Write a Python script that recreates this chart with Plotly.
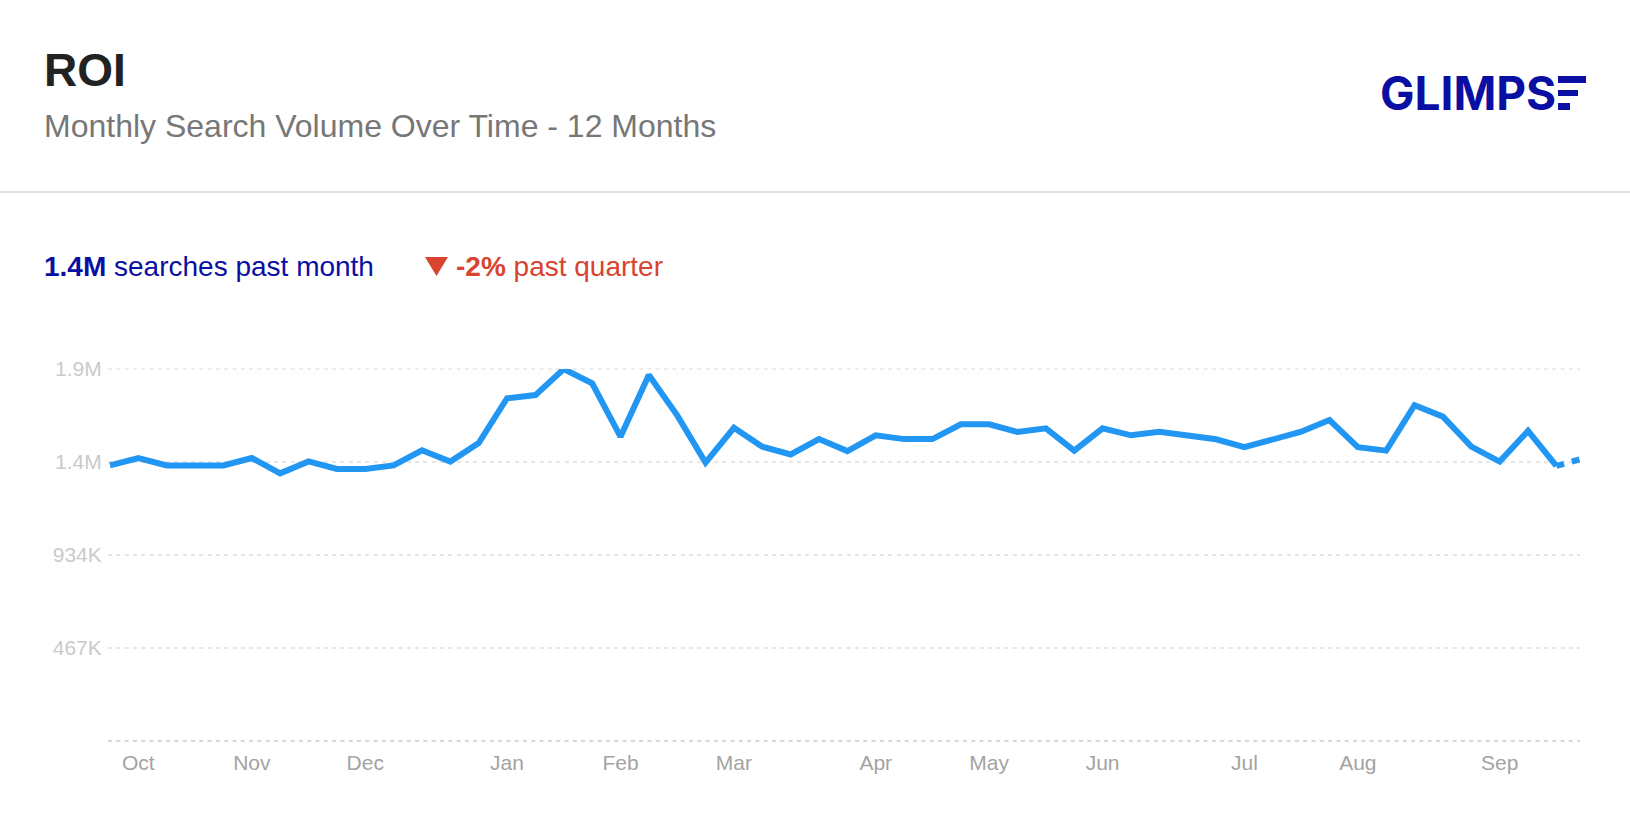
import plotly.graph_objects as go

WIDTH, HEIGHT = 1630, 814
PLOT_LEFT, PLOT_RIGHT, PLOT_TOP, PLOT_BOTTOM = 108, 1580, 369, 741
WEEK_PX = 28.36

# Weekly search volume, 53 weeks
weeks = list(range(53))
volume = [
    1384, 1421, 1384, 1384, 1384, 1421, 1344, 1404, 1366, 1366,
    1384, 1460, 1403, 1496, 1721, 1737, 1868, 1796, 1528, 1838,
    1635, 1398, 1573, 1478, 1439, 1516, 1456, 1535, 1516, 1516,
    1590, 1590, 1552, 1570, 1458, 1570, 1535, 1553, 1535, 1515,
    1475, 1515, 1553, 1612, 1475, 1458, 1686, 1629, 1478, 1403,
    1557, 1381, 1421,
]
volume = [v * 1000 for v in volume]

month_weeks = [1, 5, 9, 14, 18, 22, 27, 31, 35, 40, 44, 49]
month_labels = ["Oct", "Nov", "Dec", "Jan", "Feb", "Mar", "Apr", "May", "Jun", "Jul", "Aug", "Sep"]
y_ticks = [0, 467000, 934000, 1401000, 1868000]
y_labels = ["", "467K", "934K", "1.4M", "1.9M"]

NAVY = "#0A0FA3"
RED = "#D9432F"
LINE = "#2196F3"
GRID = "#E6E6E6"
GRID_DASH = "4px,4.3px"
FONT = "Liberation Sans, Arial, sans-serif"


def px(x):
    return (x - PLOT_LEFT) / (PLOT_RIGHT - PLOT_LEFT)


def py(y):
    return (PLOT_BOTTOM - y) / (PLOT_BOTTOM - PLOT_TOP)


def label(x, y, text, size, color, family=FONT, anchor="left"):
    return dict(
        x=px(x), y=py(y), xref="paper", yref="paper", text=text, showarrow=False,
        xanchor=anchor, yanchor="middle", align="left", borderpad=0,
        font=dict(size=size, color=color, family=family),
    )


def rect(x0, y0, x1, y1, color):
    return dict(
        type="rect", xref="paper", yref="paper", x0=px(x0), x1=px(x1), y0=py(y1), y1=py(y0),
        fillcolor=color, line_width=0,
    )


fig = go.Figure()
# The latest week is still partial, so its segment is dashed
fig.add_trace(go.Scatter(
    x=weeks[:52], y=volume[:52], mode="lines",
    line=dict(color=LINE, width=6, shape="linear"), hoverinfo="skip",
))
fig.add_trace(go.Scatter(
    x=weeks[51:], y=volume[51:], mode="lines",
    line=dict(color=LINE, width=6, dash="8px,8px"), hoverinfo="skip",
))

triangle = (
    f"M {px(425)} {py(257)} L {px(448)} {py(257)} L {px(436.5)} {py(276)} Z"
)

fig.update_layout(
    width=WIDTH, height=HEIGHT, autosize=False, showlegend=False,
    paper_bgcolor="white", plot_bgcolor="white",
    margin=dict(l=PLOT_LEFT, r=WIDTH - PLOT_RIGHT, t=PLOT_TOP, b=HEIGHT - PLOT_BOTTOM, pad=0),
    font=dict(family=FONT),
    xaxis=dict(
        range=[(PLOT_LEFT - 110) / WEEK_PX, (PLOT_RIGHT - 110) / WEEK_PX],
        tickmode="array", tickvals=month_weeks, ticktext=month_labels,
        showgrid=False, zeroline=False, showline=False,
        ticks="outside", ticklen=3, tickcolor="rgba(0,0,0,0)",
        tickfont=dict(size=21, color="#A3A3A3", family=FONT),
    ),
    yaxis=dict(
        range=[0, 1868000],
        tickmode="array", tickvals=y_ticks, ticktext=y_labels,
        showgrid=True, gridcolor=GRID, griddash=GRID_DASH, gridwidth=1.5,
        zeroline=False, showline=False,
        ticks="outside", ticklen=1, tickcolor="rgba(0,0,0,0)",
        tickfont=dict(size=21, color="#CACACA", family=FONT),
    ),
    shapes=[
        # Header divider
        dict(type="line", xref="paper", yref="paper", x0=px(0), x1=px(WIDTH), y0=py(192), y1=py(192),
             line=dict(color="#E2E2E2", width=2)),
        # Top gridline sits on the axis limit, where the axis omits it
        dict(type="line", xref="paper", yref="paper", x0=0, x1=1, y0=1, y1=1, layer="below",
             line=dict(color=GRID, width=1.5, dash=GRID_DASH)),
        # Baseline
        dict(type="line", xref="paper", yref="paper", x0=0, x1=1, y0=0, y1=0, layer="between",
             line=dict(color="#CCCCCC", width=1.5, dash=GRID_DASH)),
        # Trend arrow
        dict(type="path", xref="paper", yref="paper", path=triangle, fillcolor=RED, line_width=0),
        # Three bars that form the last letter of the wordmark
        rect(1558, 76, 1586, 83, NAVY),
        rect(1558, 90, 1578, 96, NAVY),
        rect(1558, 103, 1570, 110, NAVY),
    ],
    annotations=[
        label(42.5, 70, "<b>ROI</b>", 46, "#222222"),
        label(42.5, 126, "Monthly Search Volume Over Time - 12 Months", 32, "#777777"),
        label(42.5, 266, "<b>1.4M</b> searches past month", 28, NAVY),
        label(455, 266, "<b>-2%</b> past quarter", 28, RED),
        label(1379, 93, "<b>GLIMPS</b>", 46, NAVY, family="Inter, sans-serif"),
    ],
)

fig.write_html("out.html", config=dict(displayModeBar=False))
